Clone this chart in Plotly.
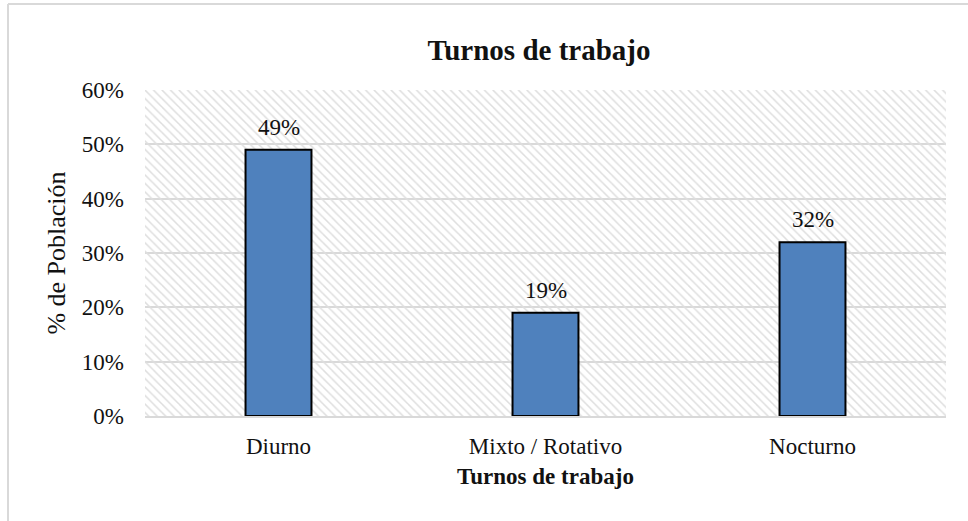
import plotly.graph_objects as go

categories = ["Diurno", "Mixto / Rotativo", "Nocturno"]
values = [0.49, 0.19, 0.32]
labels = ["49%", "19%", "32%"]
y_ticks = [0, 0.1, 0.2, 0.3, 0.4, 0.5, 0.6]
y_tick_text = ["0%", "10%", "20%", "30%", "40%", "50%", "60%"]

font = "Liberation Serif, Times New Roman, serif"
W, H = 968, 521
L, R, T, B = 145, 946, 90, 416  # plot area in pixels
pw, ph = R - L, B - T

fig = go.Figure()

# hatched background of the plot area
fig.add_trace(go.Bar(
    x=[categories[1]], y=[y_ticks[-1]], width=[3],
    marker=dict(color="rgba(0,0,0,0)", line=dict(width=0),
                pattern=dict(shape="\\", fgcolor="#dedede", bgcolor="rgba(0,0,0,0)",
                             size=6, solidity=0.25, fillmode="replace")),
    hoverinfo="skip", showlegend=False,
))

fig.add_trace(go.Bar(
    x=categories, y=values, width=0.247,
    marker=dict(color="#4f81bd", line=dict(color="black", width=2)),
    showlegend=False,
))

annotations = [
    dict(x=c, y=v, text=t, showarrow=False, yanchor="bottom", yshift=8,
         font=dict(family=font, size=23, color="#111"))
    for c, v, t in zip(categories, values, labels)
]

fig.update_layout(
    width=W, height=H,
    margin=dict(l=L, r=W - R, t=T, b=H - B),
    paper_bgcolor="white", plot_bgcolor="white",
    barmode="overlay",
    font=dict(family=font, color="#111"),
    title=dict(text="<b>Turnos de trabajo</b>", x=539 / W, xanchor="center",
               y=1 - 50 / H, yanchor="middle",
               font=dict(family=font, size=29, color="#111")),
    xaxis=dict(range=[-0.5, 2.5], categoryorder="array", categoryarray=categories,
               showgrid=False, showline=True,
               linecolor="#d9d9d9", linewidth=2, ticks="", ticklabelstandoff=8,
               tickfont=dict(family=font, size=23, color="#111"),
               title=dict(text="<b>Turnos de trabajo</b>", standoff=10,
                          font=dict(family=font, size=23, color="#111"))),
    yaxis=dict(range=[0, 0.6], tickvals=y_ticks, ticktext=y_tick_text,
               showgrid=True, gridcolor="#d9d9d9", gridwidth=2,
               zeroline=False, showline=False, ticks="", ticklabelstandoff=20,
               tickfont=dict(family=font, size=23, color="#111"),
               title=dict(text="% de Población", standoff=8,
                          font=dict(family=font, size=26, color="#111"))),
    annotations=annotations,
    shapes=[
        dict(type="line", xref="paper", yref="paper",
             x0=(8 - L) / pw, x1=(8 - L) / pw,
             y0=(B - 4) / ph, y1=(B - 540) / ph,
             line=dict(color="#d9d9d9", width=2)),
        dict(type="line", xref="paper", yref="paper",
             x0=(8 - L) / pw, x1=(990 - L) / pw,
             y0=(B - 4) / ph, y1=(B - 4) / ph,
             line=dict(color="#d9d9d9", width=2)),
    ],
)

fig.write_html("out.html", config={"displayModeBar": False},
               post_script="document.body.style.margin='0';")
